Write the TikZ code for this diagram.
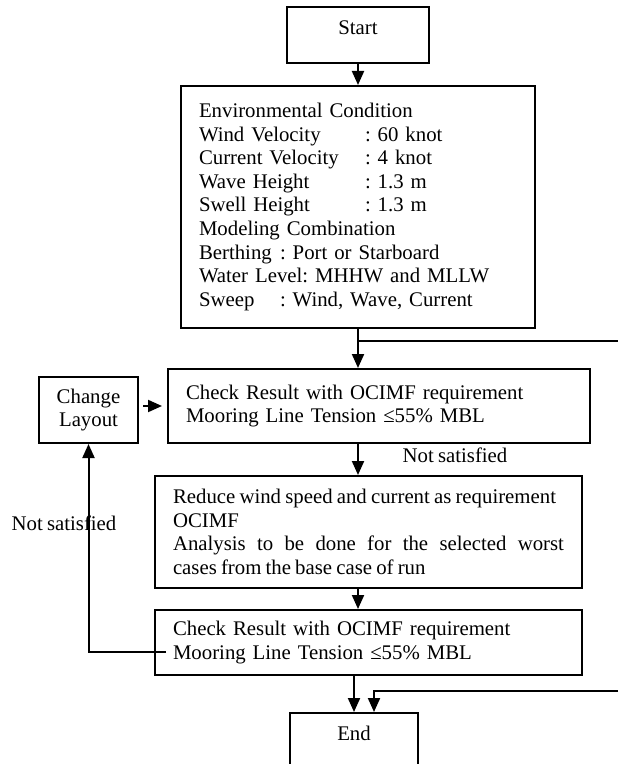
\documentclass[tikz,border=0pt]{standalone}
\usepackage{fontspec}
\setmainfont[WordSpace=0.8]{Liberation Serif}
\usetikzlibrary{arrows.meta}
\frenchspacing

\begin{document}
\begin{tikzpicture}[x=0.5pt, y=-0.5pt,
    txt/.style={font=\fontsize{10.4}{11.8}\selectfont},
    stepbox/.style={txt, draw, line width=1pt, rectangle, inner xsep=9pt, inner ysep=2pt},
    flow/.style={line width=1pt, -{Triangle[length=7pt, width=6pt]}},
    link/.style={line width=1pt}]
  \useasboundingbox (0,0) rectangle (618,764);

  \node[stepbox, minimum width=71pt, text height=14pt, text depth=14pt, inner ysep=0pt] (start) at (358,35) {Start};
  \node[stepbox, minimum width=177pt, minimum height=121pt, text width=159pt, align=left] (env) at (358,207)
    {Environmental Condition\\
     \makebox[83pt][l]{Wind Velocity}: 60 knot\\
     \makebox[83pt][l]{Current Velocity}: 4 knot\\
     \makebox[83pt][l]{Wave Height}: 1.3 m\\
     \makebox[83pt][l]{Swell Height}: 1.3 m\\
     Modeling Combination\\
     \makebox[40.5pt][l]{Berthing}: Port or Starboard\\
     Water Level: MHHW and MLLW\\
     \makebox[40.5pt][l]{Sweep}: Wind, Wave, Current};
  \node[stepbox, minimum width=211pt, minimum height=37pt, text width=193pt, align=left] (check1) at (379,406)
    {Check Result with OCIMF requirement\\ Mooring Line Tension ≤55\% MBL};
  \node[stepbox, minimum width=49.5pt, minimum height=33pt, inner xsep=2pt, align=center] (change) at (88.5,410)
    {Change\\ Layout};
  \node[stepbox, minimum width=213.5pt, minimum height=56pt, text width=195.5pt, align=justify] (reduce) at (368.5,532)
    {Reduce wind speed and current as requirement\\ OCIMF\\
     Analysis to be done for the selected worst\linebreak cases from the base case of run};
  \node[stepbox, minimum width=213.5pt, minimum height=32.5pt, text width=195.5pt, align=left] (check2) at (368.5,642.5)
    {Check Result with OCIMF requirement\\ Mooring Line Tension ≤55\% MBL};
  \node[stepbox, minimum width=64pt, text height=13.5pt, text depth=14pt, inner ysep=0pt, anchor=base] (end) at (354,740) {End};

  \node[txt] (notsat1) at (455,455) {Not satisfied};
  \node[txt] (notsat2) at (64,523) {Not satisfied};

  % loop-back lines from the right margin
  \coordinate (feedA) at (618,341);
  \coordinate (feedB) at (618,691);

  \draw[flow] (start) -- (env);
  \draw[flow] (env.south) -- (env.south |- check1.north);
  \draw[link] (env.south |- feedA) -- (feedA);
  \draw[flow] (check1.south -| env.south) -- (reduce.north -| env.south);
  \draw[flow] (reduce.south -| env.south) -- (check2.north -| env.south);
  \draw[flow] (check2.south -| end.north) -- (end.north);
  \draw[flow] (feedB) -| ([xshift=10pt]end.north);
  \draw[flow] ([shift={(6pt,-4.75pt)}]check2.west) -| (change.south);
  \draw[flow, shorten <=2pt, shorten >=2.5pt] (change.east |- check1) -- (check1.west);
\end{tikzpicture}
\end{document}
